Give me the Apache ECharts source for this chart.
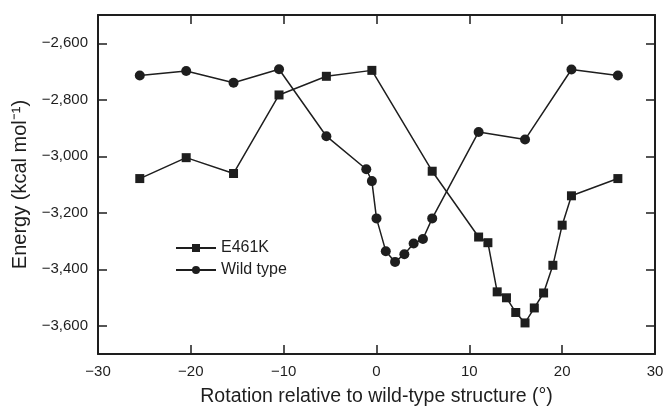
<!DOCTYPE html>
<html>
<head>
<meta charset="utf-8">
<script src="https://cdn.jsdelivr.net/npm/echarts@6/dist/echarts.min.js"></script>
<style>
  html, body { margin: 0; padding: 0; background: #fff; }
  #chart { width: 667px; height: 409px; }
</style>
</head>
<body>
<div id="chart"></div>
<script>
// rotation (deg) and energy (kcal/mol)
var wildX = [-25.5, -20.5, -15.4, -10.5, -5.4, -1.1, -0.5, 0, 1, 2, 3, 4, 5, 6, 11, 16, 21, 26];
var wildY = [-2714, -2698, -2740, -2692, -2929, -3046, -3088, -3220, -3336, -3374, -3347, -3309, -3293, -3220, -2914, -2941, -2693, -2714];

var mutX = [-25.5, -20.5, -15.4, -10.5, -5.4, -0.5, 6, 11, 12, 13, 14, 15, 16, 17, 18, 19, 20, 21, 26];
var mutY = [-3079, -3005, -3061, -2783, -2717, -2696, -3053, -3286, -3306, -3480, -3501, -3553, -3590, -3537, -3484, -3386, -3244, -3140, -3079];

var yTicks = [-3600, -3400, -3200, -3000, -2800, -2600];

var ink = '#1e1e1e';
var font = 'Liberation Sans';

function pairs(xs, ys) {
    return xs.map(function (x, i) { return [x, ys[i]]; });
}

function fmtEnergy(v) {
    var s = Math.abs(v).toString().replace(/\B(?=(\d{3})+(?!\d))/g, ',');
    return (v < 0 ? '\u2212' : '') + s;
}

function fmtRot(v) {
    return (v < 0 ? '\u2212' : '') + Math.abs(v);
}

var chart = echarts.init(document.getElementById('chart'));

var axisLine = { show: true, onZero: false, lineStyle: { color: ink, width: 2 } };
var tick = { show: true, inside: true, length: 9, lineStyle: { color: ink, width: 1.5 } };

chart.setOption({
    animation: false,
    grid: { left: 98, right: 12, top: 15, bottom: 55, containLabel: false, outerBoundsMode: 'none' },
    legend: {
        orient: 'vertical',
        left: 170,
        top: 235,
        itemWidth: 40,
        itemHeight: 10,
        itemGap: 6,
        textStyle: { fontFamily: font, fontSize: 16, color: ink },
        data: ['E461K', 'Wild type']
    },
    xAxis: [{
        type: 'value',
        min: -30, max: 30, interval: 10,
        axisLine: axisLine,
        axisTick: tick,
        splitLine: { show: false },
        axisLabel: { fontFamily: font, fontSize: 15, color: ink, margin: 10, formatter: fmtRot },
        name: 'Rotation relative to wild-type structure (\u00b0)',
        nameLocation: 'middle',
        nameGap: 33,
        nameTextStyle: { fontFamily: font, fontSize: 19.5, color: ink }
    }, {
        type: 'value',
        position: 'top',
        min: -30, max: 30, interval: 10,
        axisLine: axisLine,
        axisTick: tick,
        splitLine: { show: false },
        axisLabel: { show: false }
    }],
    yAxis: [{
        type: 'value',
        min: -3700, max: -2500,
        axisLine: axisLine,
        axisTick: Object.assign({ customValues: yTicks }, tick),
        splitLine: { show: false },
        axisLabel: { fontFamily: font, fontSize: 15, color: ink, margin: 10,
            customValues: yTicks, formatter: fmtEnergy },
        name: 'Energy (kcal mol\u207b\u00b9)',
        nameLocation: 'middle',
        nameGap: 62,
        nameTextStyle: { fontFamily: font, fontSize: 20, color: ink }
    }, {
        type: 'value',
        position: 'right',
        min: -3700, max: -2500,
        axisLine: axisLine,
        axisTick: Object.assign({ customValues: yTicks }, tick),
        splitLine: { show: false },
        axisLabel: { show: false }
    }],
    series: [{
        name: 'E461K',
        type: 'line',
        data: pairs(mutX, mutY),
        symbol: 'rect',
        symbolSize: 9,
        itemStyle: { color: ink },
        lineStyle: { color: ink, width: 1.5 }
    }, {
        name: 'Wild type',
        type: 'line',
        data: pairs(wildX, wildY),
        symbol: 'circle',
        symbolSize: 10,
        itemStyle: { color: ink },
        lineStyle: { color: ink, width: 1.5 }
    }]
});
</script>
</body>
</html>
